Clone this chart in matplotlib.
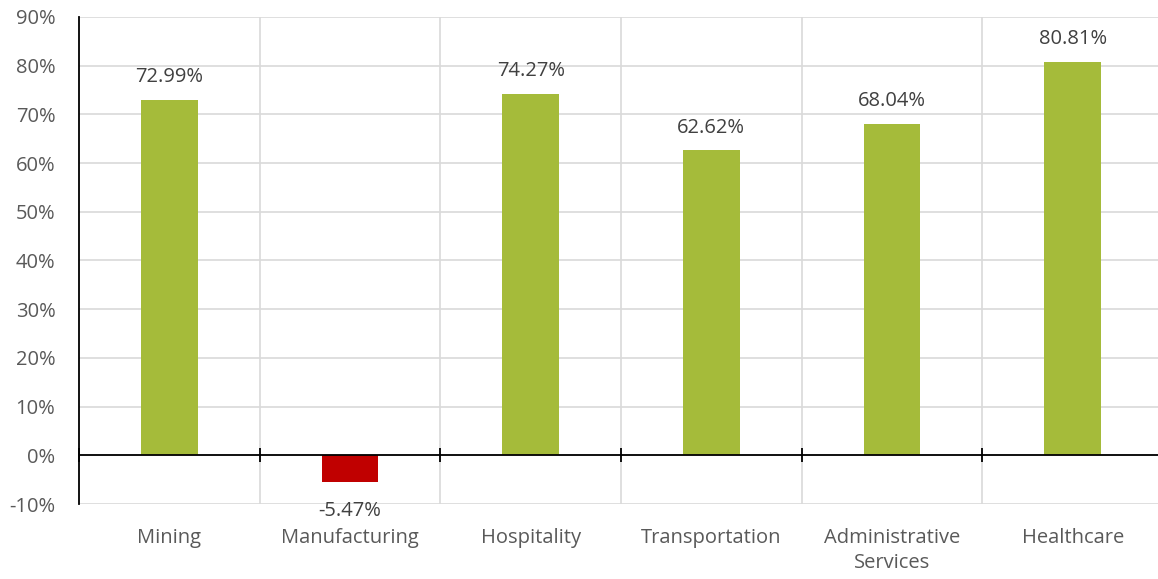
import numpy as np
import matplotlib.pyplot as plt

plt.rcParams['font.family'] = ['Open Sans', 'DejaVu Sans']

# 行业与数值 (%)
categories = ['Mining', 'Manufacturing', 'Hospitality', 'Transportation',
              'Administrative\nServices', 'Healthcare']
values = [72.99, -5.47, 74.27, 62.62, 68.04, 80.81]

green = '#a5bb3a'
red = '#c00000'
fs = 14.5

fig = plt.figure(figsize=(11.58, 5.79), dpi=100)
ax = fig.add_axes([79 / 1158, 1 - 504 / 579, 1084 / 1158, 487 / 579])

x = np.arange(len(categories))
colors = [green if v >= 0 else red for v in values]
ax.bar(x, values, width=0.315, color=colors, zorder=3)

# 数据标签
for xi, v in zip(x, values):
    if v >= 0:
        ax.annotate(f'{v:.2f}%', (xi, v), xytext=(0, 9), textcoords='offset points',
                    ha='center', va='bottom', fontsize=fs, color='#404040')
    else:
        ax.annotate(f'{v:.2f}%', (xi, v), xytext=(0, -14), textcoords='offset points',
                    ha='center', va='top', fontsize=fs, color='#404040')

ax.set_xlim(-0.5, len(categories) - 0.5)
ax.set_ylim(-10, 90)
yt = np.arange(-10, 91, 10)
ax.set_yticks(yt)
ax.set_yticklabels([f'{t}%' for t in yt], fontsize=fs, color='#595959')
ax.set_xticks(x)
ax.set_xticklabels(categories, fontsize=fs, color='#595959', linespacing=1.35)
ax.tick_params(axis='x', length=0, pad=17)
ax.tick_params(axis='y', length=0, pad=17)

# 网格线
for t in yt:
    ax.axhline(t, color='#d9d9d9', lw=1.2, zorder=1)
bounds = np.arange(len(categories) + 1) - 0.5
for b in bounds[1:]:
    ax.axvline(b, color='#d9d9d9', lw=1.2, zorder=1)

# 零线及刻度
ax.axhline(0, color='black', lw=1.3, zorder=4)
ax.plot(bounds, np.zeros_like(bounds), ls='none', marker='|', ms=10, mew=1.3,
        color='black', zorder=4, clip_on=False)

for s in ['top', 'right', 'bottom']:
    ax.spines[s].set_visible(False)
ax.spines['left'].set_color('black')
ax.spines['left'].set_linewidth(1.3)
ax.spines['left'].set_zorder(5)

fig.savefig('out.png', dpi=100)
